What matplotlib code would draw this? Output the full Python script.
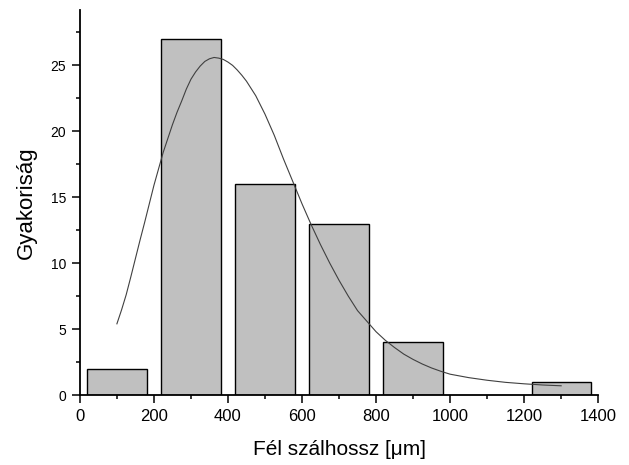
import numpy as np
import matplotlib
matplotlib.use("Agg")
import matplotlib.pyplot as plt
from matplotlib.ticker import MultipleLocator

plt.rcParams['font.family'] = ['Liberation Sans', 'DejaVu Sans']

# histogram bins (centres) and counts
bin_centers = [100, 300, 500, 700, 900, 1300]
counts = [2, 27, 16, 13, 4, 1]
bin_width = 160

# fitted curve
fit_x = [100, 112.5, 125, 137.5, 150, 162.5, 175, 200, 225, 250, 262.5, 275,
         287.5, 300, 312.5, 325, 337.5, 350, 362.5, 375, 387.5, 400, 412.5,
         425, 437.5, 450, 475, 500, 525, 550, 575, 600, 625, 650, 675, 700,
         725, 750, 775, 800, 825, 850, 875, 900, 925, 950, 975, 1000, 1050,
         1100, 1150, 1200, 1250, 1300]
fit_y = [5.4, 6.45, 7.6, 8.95, 10.35, 11.75, 13.1, 15.9, 18.4, 20.5, 21.45,
         22.3, 23.2, 23.95, 24.5, 24.95, 25.3, 25.5, 25.6, 25.55, 25.45, 25.25,
         25.0, 24.65, 24.25, 23.8, 22.7, 21.3, 19.7, 17.9, 16.2, 14.5, 12.9,
         11.4, 10.0, 8.7, 7.5, 6.4, 5.6, 4.8, 4.15, 3.6, 3.1, 2.7, 2.35,
         2.05, 1.8, 1.58, 1.32, 1.12, 0.96, 0.85, 0.76, 0.70]

fig = plt.figure(figsize=(6.29, 4.65), dpi=100)
ax = fig.add_axes([0.127, 0.1505, 0.824, 0.828])

ax.bar(bin_centers, counts, width=bin_width, color='#C0C0C0',
       edgecolor='black', linewidth=1.0, zorder=2)
ax.plot(fit_x, fit_y, color='#404040', linewidth=0.8, zorder=3)

ax.set_xlim(0, 1400)
ax.set_ylim(0, 29.2)
ax.xaxis.set_major_locator(MultipleLocator(200))
ax.xaxis.set_minor_locator(MultipleLocator(100))
ax.yaxis.set_major_locator(MultipleLocator(5))
ax.yaxis.set_minor_locator(MultipleLocator(2.5))

for s in ['top', 'right']:
    ax.spines[s].set_visible(False)
for s in ['left', 'bottom']:
    ax.spines[s].set_linewidth(1.3)

ax.tick_params(which='major', direction='out', length=5.8, width=1.1)
ax.tick_params(which='minor', direction='out', length=2.9, width=1.1)
ax.tick_params(axis='x', which='major', labelsize=12, pad=4)
ax.tick_params(axis='y', which='major', labelsize=10, pad=4)

ax.set_xlabel('Fél szálhossz [μm]', fontsize=15, labelpad=12)
ax.set_ylabel('Gyakoriság', fontsize=16, labelpad=10)

fig.savefig('out.png', dpi=100)
